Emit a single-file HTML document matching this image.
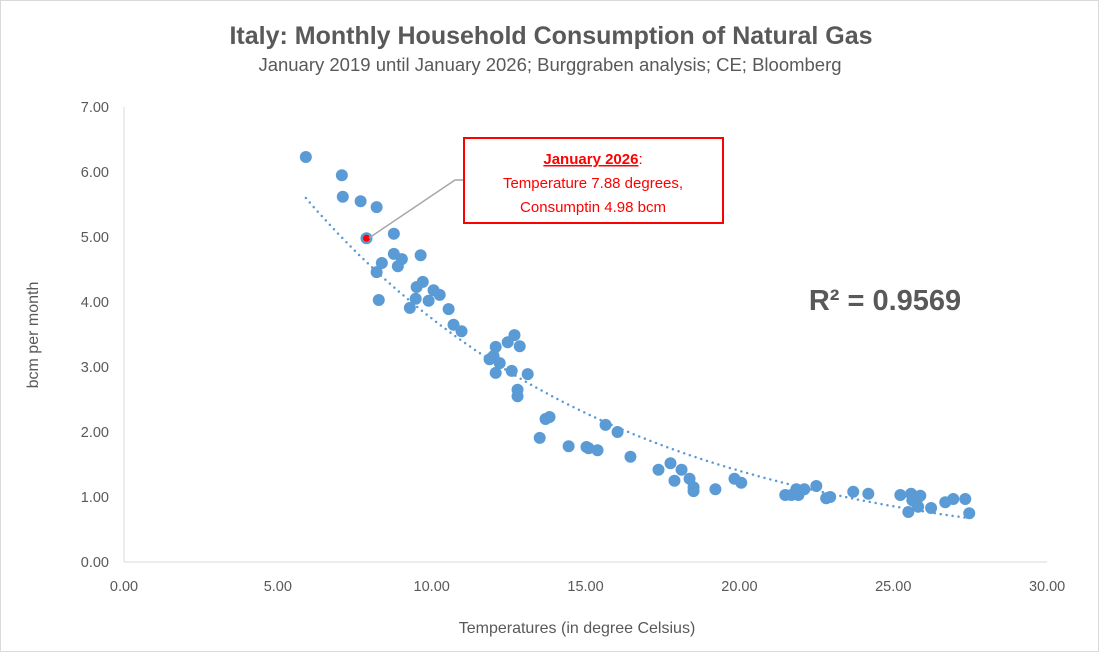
<!DOCTYPE html>
<html><head><meta charset="utf-8"><style>
body{margin:0;background:#fff;font-family:"Liberation Sans",Arial,sans-serif}
svg text{font-family:"Liberation Sans",Arial,sans-serif}
</style></head><body>
<svg id="c" width="1099" height="652" viewBox="0 0 1099 652" xmlns="http://www.w3.org/2000/svg">
<rect x="0.5" y="0.5" width="1098" height="651" fill="#fff" stroke="#d9d9d9"/>
<text x="551" y="44" text-anchor="middle" font-size="25" font-weight="bold" fill="#595959">Italy: Monthly Household Consumption of Natural Gas</text>
<text x="550" y="71" text-anchor="middle" font-size="18.5" fill="#595959">January 2019 until January 2026; Burggraben analysis; CE; Bloomberg</text>
<g id="axes"></g>
<g id="trend"></g>
<g id="pts"></g>
<text x="38" y="335" transform="rotate(-90 38 335)" text-anchor="middle" font-size="16" fill="#595959">bcm per month</text>
<text x="577" y="633" text-anchor="middle" font-size="16" fill="#595959">Temperatures (in degree Celsius)</text>
<text x="885" y="310" text-anchor="middle" font-size="29" font-weight="bold" fill="#595959">R² = 0.9569</text>
<polyline points="369,238 455,180 463,180" fill="none" stroke="#a6a6a6" stroke-width="1.5"/>
<rect x="464" y="138" width="259" height="85" fill="#fff" stroke="#ff0000" stroke-width="2"/>
<text x="593" y="164" text-anchor="middle" font-size="15" fill="#ff0000"><tspan font-weight="bold" text-decoration="underline">January 2026</tspan>:</text>
<text x="593" y="188" text-anchor="middle" font-size="15" fill="#ff0000">Temperature 7.88 degrees,</text>
<text x="593" y="212" text-anchor="middle" font-size="15" fill="#ff0000">Consumptin 4.98 bcm</text>
</svg>
<script>
const temps=[5.91,7.08,7.11,7.69,8.21,8.77,8.77,9.03,9.64,8.38,8.21,8.90,8.28,9.71,9.51,10.06,10.26,9.90,9.48,9.29,10.55,10.71,10.97,12.08,12.47,12.69,12.86,11.88,12.01,12.21,12.08,12.60,13.12,12.79,12.79,13.83,13.70,13.51,14.45,15.03,15.10,15.39,15.65,16.04,16.46,17.37,17.76,18.12,17.89,18.38,18.51,18.51,19.22,19.84,20.06,21.49,21.69,21.85,21.92,22.11,22.50,22.82,22.95,23.70,24.19,25.23,25.58,25.88,25.62,25.49,25.81,26.23,25.75,26.69,26.95,27.34,27.47,7.88];
const gas=[6.23,5.95,5.62,5.55,5.46,5.05,4.74,4.66,4.72,4.60,4.46,4.55,4.03,4.31,4.23,4.18,4.11,4.02,4.05,3.91,3.89,3.65,3.55,3.31,3.38,3.49,3.32,3.12,3.17,3.06,2.91,2.94,2.89,2.65,2.55,2.23,2.20,1.91,1.78,1.77,1.75,1.72,2.11,2.00,1.62,1.42,1.52,1.42,1.25,1.28,1.15,1.09,1.12,1.28,1.22,1.03,1.03,1.12,1.03,1.12,1.17,0.98,1.00,1.08,1.05,1.03,1.05,1.02,0.95,0.77,0.85,0.83,0.91,0.92,0.97,0.97,0.75,4.98];
const xTicks=[0,5,10,15,20,25,30];
const yTicks=[0,1,2,3,4,5,6,7];
const NS="http://www.w3.org/2000/svg";
const X=v=>124+v*30.77, Y=v=>562-v*65;
function mk(t,a,p){const e=document.createElementNS(NS,t);for(const k in a)e.setAttribute(k,a[k]);p.appendChild(e);return e;}
const ax=document.getElementById('axes');
let l=mk('line',{x1:X(0),x2:X(30),y1:Y(0),y2:Y(0),stroke:'#d9d9d9'},ax);


l=mk('line',{x1:X(0),x2:X(0),y1:Y(0),y2:Y(7),stroke:'#d9d9d9'},ax);


xTicks.forEach(v=>{const t=mk('text',{x:X(v),y:591,'text-anchor':'middle','font-size':14.5,fill:'#595959'},ax);t.textContent=v.toFixed(2);

});
yTicks.forEach(v=>{const t=mk('text',{x:109,y:Y(v)+5,'text-anchor':'end','font-size':14.5,fill:'#595959'},ax);t.textContent=v.toFixed(2);

});
let n=temps.length,sx=0,sy=0,sxx=0,sxy=0;
for(let i=0;i<n;i++){const ly=Math.log(gas[i]);sx+=temps[i];sy+=ly;sxx+=temps[i]*temps[i];sxy+=temps[i]*ly;}
const b=(n*sxy-sx*sy)/(n*sxx-sx*sx), a=Math.exp((sy-b*sx)/n);
const mn=Math.min(...temps),mx=Math.max(...temps);let d='';
for(let k=0;k<=100;k++){const x=mn+(mx-mn)*k/100;d+=(k?'L':'M')+X(x).toFixed(1)+','+Y(a*Math.exp(b*x)).toFixed(1);}
const tr=mk('path',{d:d,fill:'none',stroke:'#5b9bd5','stroke-width':2.5,'stroke-dasharray':'0 6','stroke-linecap':'round'},document.getElementById('trend'));


const pg=document.getElementById('pts');
temps.forEach((t,i)=>{const last=i===temps.length-1;
const c=mk('circle',{cx:X(t),cy:Y(gas[i]),r:6,fill:'#5b9bd5'},pg);


if(last){const r=mk('circle',{cx:X(t),cy:Y(gas[i]),r:3.5,fill:'#ff0000'},pg);

}
});
</script>
</body></html>
